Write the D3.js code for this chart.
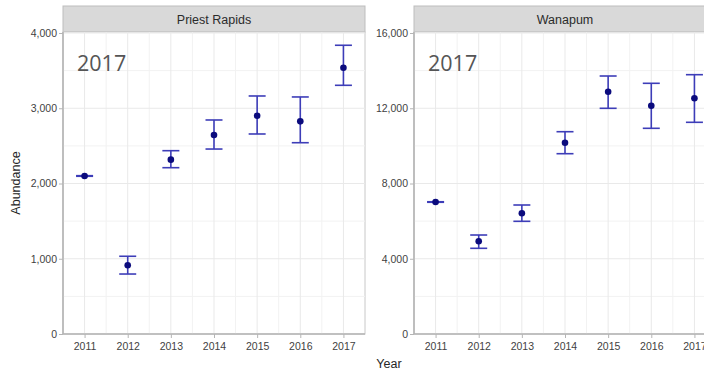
<!DOCTYPE html>
<html>
<head>
<meta charset="utf-8">
<script src="https://cdn.jsdelivr.net/npm/d3@7"></script>
<style>
  html, body { margin: 0; padding: 0; background: #fff; }
  svg { display: block; font-family: "Liberation Sans", Arial, sans-serif; }
</style>
</head>
<body>
<svg id="chart" width="704" height="373"></svg>
<script>
// Abundance estimates with lower / upper interval bounds, by year and site
const years = [2011, 2012, 2013, 2014, 2015, 2016, 2017];

const priestEst = [2100, 913, 2317, 2645, 2901, 2826, 3539];
const priestLo  = [2096, 797, 2210, 2458, 2658, 2542, 3305];
const priestHi  = [2104, 1033, 2436, 2844, 3163, 3150, 3837];

const wanapumEst = [7016, 4927, 6415, 10170, 12880, 12135, 12529];
const wanapumLo  = [7002, 4555, 5990, 9584, 11997, 10934, 11253];
const wanapumHi  = [7030, 5262, 6857, 10753, 13714, 13326, 13784];

const priestTicks  = [0, 1000, 2000, 3000, 4000];
const wanapumTicks = [0, 4000, 8000, 12000, 16000];

const panelNames = ["Priest Rapids", "Wanapum"];
const yearLabel = "2017";

const panels = [
  { name: panelNames[0], est: priestEst, lo: priestLo, hi: priestHi,
    ticks: priestTicks, max: 4000, x0: 63 },
  { name: panelNames[1], est: wanapumEst, lo: wanapumLo, hi: wanapumHi,
    ticks: wanapumTicks, max: 16000, x0: 414 }
];

const svg = d3.select("#chart");
const panelW = 302, stripTop = 6, stripBot = 32, plotTop = 33, plotBot = 334;
const fmt = d3.format(",");

panels.forEach(p => {
  const x = d3.scalePoint().domain(years).range([p.x0, p.x0 + panelW]).padding(0.5);
  const y = d3.scaleLinear().domain([0, p.max]).range([plotBot, plotTop]);
  const g = svg.append("g");

  // strip
  g.append("rect")
    .attr("x", p.x0).attr("y", stripTop)
    .attr("width", panelW).attr("height", stripBot - stripTop)
    .attr("fill", "#d9d9d9").attr("stroke", "#bdbdbd").attr("stroke-width", 1);
  g.append("text")
    .attr("x", p.x0 + panelW / 2).attr("y", 24)
    .attr("text-anchor", "middle")
    .attr("font-size", 12.5).attr("fill", "#2b2b2b")
    .text(p.name);

  // panel background and border
  g.append("rect")
    .attr("x", p.x0).attr("y", stripBot)
    .attr("width", panelW).attr("height", plotBot - stripBot)
    .attr("fill", "#fff").attr("stroke", "#c8c8c8").attr("stroke-width", 1);

  // minor grid
  const step = x.step();
  const minorX = years.slice(0, -1).map(d => x(d) + step / 2);
  const half = p.ticks[1] / 2;
  const minorY = p.ticks.slice(0, -1).map(t => t + half);
  g.selectAll(".mgx").data(minorX).join("line")
    .attr("x1", d => d).attr("x2", d => d)
    .attr("y1", stripBot).attr("y2", plotBot)
    .attr("stroke", "#f2f2f2").attr("stroke-width", 1);
  g.selectAll(".mgy").data(minorY).join("line")
    .attr("x1", p.x0).attr("x2", p.x0 + panelW)
    .attr("y1", d => y(d)).attr("y2", d => y(d))
    .attr("stroke", "#f2f2f2").attr("stroke-width", 1);

  // major grid
  g.selectAll(".gx").data(years).join("line")
    .attr("x1", d => x(d)).attr("x2", d => x(d))
    .attr("y1", stripBot).attr("y2", plotBot)
    .attr("stroke", "#e9e9e9").attr("stroke-width", 1);
  g.selectAll(".gy").data(p.ticks.slice(1)).join("line")
    .attr("x1", p.x0).attr("x2", p.x0 + panelW)
    .attr("y1", d => y(d)).attr("y2", d => y(d))
    .attr("stroke", "#e9e9e9").attr("stroke-width", 1);

  // axes
  const yAxis = g.append("g")
    .attr("transform", `translate(${p.x0},0)`)
    .call(d3.axisLeft(y).tickValues(p.ticks).tickFormat(fmt).tickSize(4).tickPadding(2));
  const xAxis = g.append("g")
    .attr("transform", `translate(0,${plotBot})`)
    .call(d3.axisBottom(x).tickSize(4).tickPadding(5));
  [yAxis, xAxis].forEach(a => {
    a.select(".domain").attr("stroke", "#b5b5b5").attr("stroke-width", 1.6);
    a.selectAll(".tick line").attr("stroke", "#b5b5b5").attr("stroke-width", 1);
    a.selectAll(".tick text")
      .attr("fill", "#3f3f3f").attr("font-size", 10.5)
      .attr("font-family", "'Liberation Sans', Arial, sans-serif");
  });
  yAxis.select(".domain").attr("d", `M0,${plotBot}V${stripBot}`);
  xAxis.select(".domain").attr("d", `M${p.x0},0H${p.x0 + panelW}`);

  // in-panel year label
  g.append("text")
    .attr("x", p.x0 + 14).attr("y", 71)
    .attr("font-family", "'Open Sans', sans-serif")
    .attr("font-size", 21.5).attr("fill", "#555")
    .text(yearLabel);

  // error bars
  const idx = d3.range(years.length);
  const cap = 8.5;
  const eb = g.append("g").attr("stroke", "#3d3db8").attr("stroke-width", 1.6).attr("fill", "none");
  eb.selectAll(".v").data(idx).join("line")
    .attr("x1", i => x(years[i])).attr("x2", i => x(years[i]))
    .attr("y1", i => y(p.lo[i])).attr("y2", i => y(p.hi[i]));
  eb.selectAll(".ct").data(idx).join("line")
    .attr("x1", i => x(years[i]) - cap).attr("x2", i => x(years[i]) + cap)
    .attr("y1", i => y(p.hi[i])).attr("y2", i => y(p.hi[i]));
  eb.selectAll(".cb").data(idx).join("line")
    .attr("x1", i => x(years[i]) - cap).attr("x2", i => x(years[i]) + cap)
    .attr("y1", i => y(p.lo[i])).attr("y2", i => y(p.lo[i]));

  // point estimates
  g.selectAll(".pt").data(idx).join("circle")
    .attr("cx", i => x(years[i])).attr("cy", i => y(p.est[i]))
    .attr("r", 3.3).attr("fill", "#0b0b7d");
});

// axis titles
svg.append("text")
  .attr("transform", "translate(20,183) rotate(-90)")
  .attr("text-anchor", "middle")
  .attr("font-size", 12.5).attr("fill", "#262626")
  .text("Abundance");
svg.append("text")
  .attr("x", 389).attr("y", 368)
  .attr("text-anchor", "middle")
  .attr("font-size", 12.5).attr("fill", "#262626")
  .text("Year");
</script>
</body>
</html>
